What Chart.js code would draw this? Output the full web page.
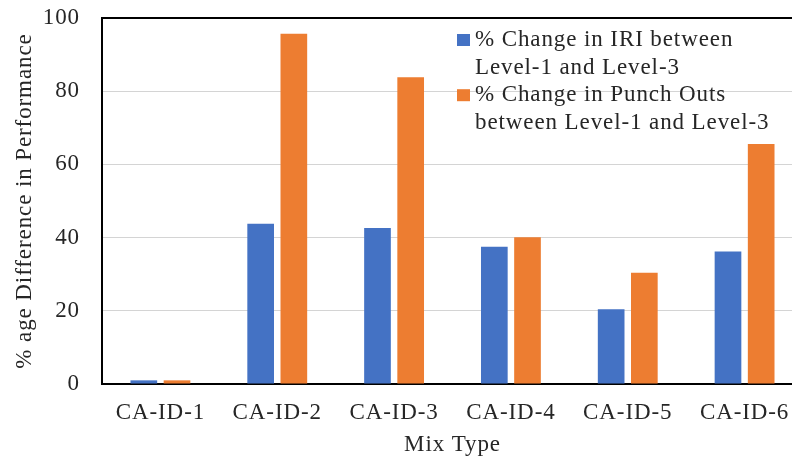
<!DOCTYPE html>
<html>
<head>
<meta charset="utf-8">
<script src="https://cdn.jsdelivr.net/npm/chart.js@4/dist/chart.umd.min.js"></script>
<style>
  html, body { margin: 0; padding: 0; background: #fff; overflow: hidden; }
  #wrap { width: 792px; height: 459px; overflow: hidden; }
  canvas { display: block; }
</style>
</head>
<body>
<div id="wrap"><canvas id="chart" width="812" height="459"></canvas></div>
<script>
// Mix types along the x axis
const categories = ['CA-ID-1', 'CA-ID-2', 'CA-ID-3', 'CA-ID-4', 'CA-ID-5', 'CA-ID-6'];
// % change in IRI between Level-1 and Level-3
const iriChange = [1.0, 43.8, 42.6, 37.5, 20.4, 36.2];
// % change in punch outs between Level-1 and Level-3
const punchOutChange = [1.0, 95.7, 83.8, 40.1, 30.4, 65.6];
// Value axis ticks
const yTicks = [0, 20, 40, 60, 80, 100];
// Legend entries, wrapped the way they are printed
const iriName = ['% Change in IRI between', 'Level-1 and Level-3'];
const punchName = ['% Change in Punch Outs', 'between Level-1 and Level-3'];
const xTitle = 'Mix Type';
const yTitle = '% age Difference in Performance';

const FONT = "'Liberation Serif', 'Times New Roman', serif";
const SIZE = 23;
const TEXT = '#262626';
const SPACING = '0.9px';

// Loose tracking on all canvas text
const tracking = {
  id: 'tracking',
  beforeLayout(chart) { chart.ctx.letterSpacing = SPACING; },
  beforeDraw(chart) { chart.ctx.letterSpacing = SPACING; }
};

// Legend drawn inside the plot, top right, with wrapped lines
const insideLegend = {
  id: 'insideLegend',
  afterDraw(chart) {
    const ctx = chart.ctx;
    ctx.save();
    ctx.letterSpacing = SPACING;
    ctx.font = SIZE + 'px ' + FONT;
    ctx.textBaseline = 'alphabetic';
    ctx.textAlign = 'left';
    const boxX = 457, textX = 475, lineH = 27.6;
    let baseline = 46;
    chart.data.datasets.forEach(ds => {
      ctx.fillStyle = ds.backgroundColor;
      ctx.fillRect(boxX, baseline - 12, 13, 12);
      ctx.fillStyle = TEXT;
      ds.legendLines.forEach(line => {
        ctx.fillText(line, textX, baseline);
        baseline += lineH;
      });
    });
    ctx.restore();
  }
};

function noPad(scale) {
  scale.paddingTop = 0; scale.paddingBottom = 0;
  scale.paddingLeft = 0; scale.paddingRight = 0;
}

new Chart(document.getElementById('chart'), {
  type: 'bar',
  data: {
    labels: categories,
    datasets: [
      { label: iriName.join(' '), legendLines: iriName, data: iriChange,
        backgroundColor: '#4472C4', categoryPercentage: 0.568, barPercentage: 0.804 },
      { label: punchName.join(' '), legendLines: punchName, data: punchOutChange,
        backgroundColor: '#ED7D31', categoryPercentage: 0.568, barPercentage: 0.804 }
    ]
  },
  options: {
    responsive: false,
    devicePixelRatio: 1,
    animation: false,
    layout: { padding: { left: 0, right: 9, top: 18, bottom: 0 } },
    plugins: {
      legend: { display: false },
      tooltip: { enabled: false }
    },
    scales: {
      x: {
        grid: { display: false },
        border: { display: true, color: '#000', width: 2 },
        ticks: { color: TEXT, font: { family: FONT, size: SIZE }, padding: 7, maxRotation: 0 },
        title: { display: true, text: xTitle, color: TEXT,
                 font: { family: FONT, size: SIZE }, padding: { top: 0, bottom: 0 } },
        afterFit(scale) { scale.height = 75; noPad(scale); }
      },
      y: {
        min: 0, max: 100,
        afterBuildTicks(scale) { scale.ticks = yTicks.map(v => ({ value: v })); },
        grid: {
          drawTicks: false,
          color: ctx => (ctx.tick && ctx.tick.value === 100) ? '#000' : '#d4d4d4',
          lineWidth: ctx => (ctx.tick && ctx.tick.value === 100) ? 2 : 1
        },
        border: { display: true, color: '#000', width: 2 },
        ticks: { color: TEXT, font: { family: FONT, size: SIZE }, padding: 22 },
        title: { display: true, text: yTitle, color: TEXT,
                 font: { family: FONT, size: SIZE }, padding: { top: 11, bottom: 0 } },
        afterFit(scale) { scale.width = 102; noPad(scale); }
      }
    }
  },
  plugins: [tracking, insideLegend]
});
</script>
</body>
</html>
